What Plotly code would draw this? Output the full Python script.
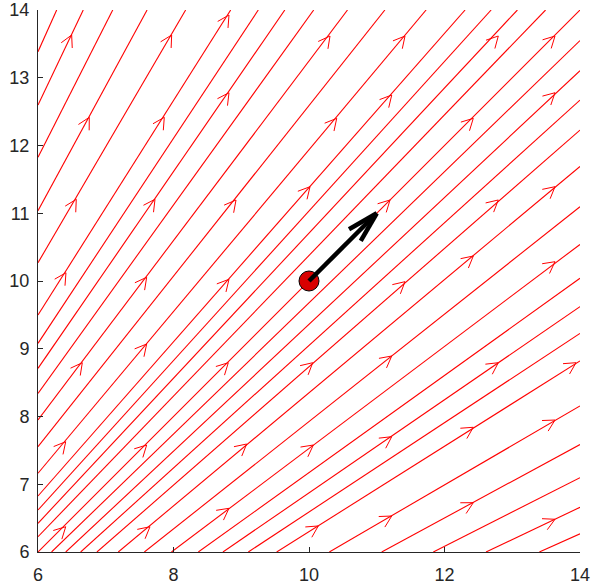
import numpy as np
import plotly.graph_objects as go

# field is u = x, v = y -> every streamline is a ray out of the origin
# where each streamline enters the window
left_entry_y = [6.226, 6.424, 6.620, 6.827, 7.162, 7.554, 7.948, 8.342, 8.711,
                9.080, 9.498, 10.270, 11.038, 11.826, 12.598, 13.385]
bottom_entry_x = [6.0, 6.2, 6.41, 6.63, 6.87, 7.185, 7.57, 7.97, 8.366, 8.73,
                  9.104, 9.523, 10.30, 11.073, 11.835, 12.613, 13.40]

# arrowhead tips on the streamlines
arrow_x = [6.497, 7.973, 8.819, 6.757, 7.864, 8.819, 6.565, 7.727, 8.923, 6.413, 7.604, 8.819,
           10.310, 11.417, 12.794, 13.631, 11.221, 13.631, 10.409, 12.425, 10.015, 11.196,
           12.794, 13.631, 11.417, 12.425, 13.631,
           6.654, 7.604, 8.809, 6.409, 7.604, 9.080, 6.409, 7.653, 8.819,
           10.055, 11.221, 12.794, 13.941, 10.064, 11.221, 12.425, 13.631, 10.137, 11.221,
           12.425, 13.631]
arrow_y = [13.631, 13.631, 13.926, 12.416, 12.416, 12.779, 11.206, 11.206, 11.196, 10.122, 10.055, 10.025,
           13.616, 13.616, 13.616, 13.616, 12.745, 12.779, 12.401, 12.401, 11.392, 11.196,
           11.196, 11.392, 9.990, 10.369, 10.285,
           8.794, 9.070, 8.794, 7.628, 7.579, 7.594, 6.373, 6.373, 6.645,
           8.794, 8.893, 8.794, 8.794, 7.579, 7.702, 7.841, 7.948, 6.384, 6.531,
           6.728, 6.483]

point = (10, 10)
vector = (1, 1)

RED = "#ff0000"
INK = "#262626"
PX = 8 / 542  # data units per pixel (both axes)
XMAX = YMAX = 14

starts = [(6.0, y) for y in left_entry_y] + [(x, 6.0) for x in bottom_entry_x]
lx, ly = [], []
for x0, y0 in starts:
    t = min(XMAX / x0, YMAX / y0)  # follow the ray until it leaves the window
    lx += [x0, x0 * t, None]
    ly += [y0, y0 * t, None]


def wings(tx, ty, dx, dy, length, ang):
    n = np.hypot(dx, dy)
    bx, by = -dx / n, -dy / n
    segs = []
    for a in (ang, -ang):
        c, s = np.cos(a), np.sin(a)
        wx = bx * c - by * s
        wy = bx * s + by * c
        segs.append(([float(tx + wx * length), tx], [float(ty + wy * length), ty]))
    return segs


ax_, ay_ = [], []
for tx, ty in zip(arrow_x, arrow_y):
    for xs, ys in wings(tx, ty, tx, ty, 13 * PX, np.radians(28)):
        ax_ += xs + [None]
        ay_ += ys + [None]

fig = go.Figure()
fig.add_trace(go.Scatter(x=lx, y=ly, mode="lines", line=dict(color=RED, width=1.1),
                         hoverinfo="skip"))
fig.add_trace(go.Scatter(x=ax_, y=ay_, mode="lines", line=dict(color=RED, width=1),
                         hoverinfo="skip"))

# red dot and black arrow
fig.add_trace(go.Scatter(x=[point[0]], y=[point[1]], mode="markers", hoverinfo="skip",
                         marker=dict(size=20, color="#d80000", line=dict(color="black", width=1))))
tip = (point[0] + vector[0], point[1] + vector[1])
fig.add_trace(go.Scatter(x=[point[0], tip[0]], y=[point[1], tip[1]], mode="lines",
                         line=dict(color="black", width=4.5), hoverinfo="skip"))
for xs, ys in wings(tip[0], tip[1], vector[0], vector[1], 32 * PX, np.radians(15)):
    fig.add_trace(go.Scatter(x=xs, y=ys, mode="lines",
                             line=dict(color="black", width=4.5), hoverinfo="skip"))

axis_common = dict(showgrid=False, zeroline=False, showline=True, linecolor=INK, linewidth=1,
                   ticks="inside", ticklen=5, tickcolor=INK, mirror=False, automargin=False,
                   showspikes=False,
                   tickfont=dict(family="Liberation Sans, Arial", size=18, color=INK))
fig.update_xaxes(range=[6, 14], tickvals=[6, 8, 10, 12, 14], ticklabelstandoff=6, **axis_common)
fig.update_yaxes(range=[6, 14], tickvals=list(range(6, 15)), ticklabelstandoff=4, **axis_common)

fig.update_layout(width=593, height=585, margin=dict(l=38, r=13, t=10, b=33),
                  plot_bgcolor="white", paper_bgcolor="white", showlegend=False,
                  hovermode=False)

fig.write_html("out.html", config={"displayModeBar": False},
               post_script="document.body.style.margin='0';")
